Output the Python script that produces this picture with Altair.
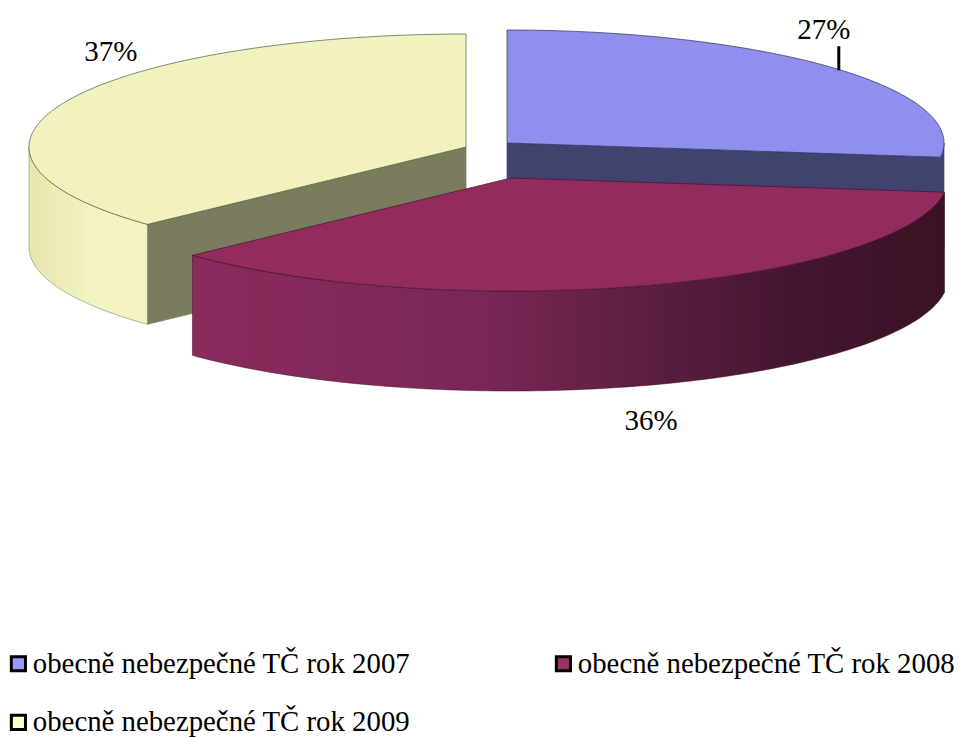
import numpy as np
import pandas as pd
import altair as alt

series = ["obecně nebezpečné TČ rok 2007", "obecně nebezpečné TČ rok 2008", "obecně nebezpečné TČ rok 2009"]
shares = [27, 36, 37]
centers_x = [507, 511, 466]
centers_y = [143, 178, 147]
legend_colors = ["#9999ff", "#993366", "#ffffcc"]
top_colors = ["#8f8fee", "#922c5e", "#f2f2c0"]
edge_colors = ["#2c2c60", "#4a1030", "#55553a"]
label_dx = [-11, 5, 46]
label_dy = [-38, 36, -50]

RX, RY, DEPTH = 437, 113, 100
FONT = "Liberation Serif"

edges = np.concatenate([[0], np.cumsum(shares)]) * 3.6


def rim(i, a):
    a = np.radians(a)
    return centers_x[i] + RX * np.sin(a), centers_y[i] - RY * np.cos(a)


def poly(name, xs, ys):
    return pd.DataFrame({"name": name, "k": np.arange(len(xs)), "x": xs, "y": ys})


def top(i):
    xs, ys = rim(i, np.linspace(edges[i], edges[i + 1], 120))
    return poly("t", np.r_[centers_x[i], xs, centers_x[i]], np.r_[centers_y[i], ys, centers_y[i]])


def wall(i, a0, a1):
    xs, ys = rim(i, np.linspace(a0, a1, 120))
    return poly("w", np.r_[xs, xs[::-1], xs[0]], np.r_[ys, ys[::-1] + DEPTH, ys[0]])


def face(i, a):
    x, y = rim(i, a)
    cx, cy = centers_x[i], centers_y[i]
    return poly("f", [cx, x, x, cx, cx], [cy, y, y + DEPTH, cy + DEPTH, cy])


xs_scale = alt.Scale(domain=[8, 959], nice=False, zero=False)
ys_scale = alt.Scale(domain=[737, 8], nice=False, zero=False)
X = alt.X("x:Q", scale=xs_scale, axis=None)
Y = alt.Y("y:Q", scale=ys_scale, axis=None)


def shape(df, fill, stroke=None, sw=0.7):
    kw = {"stroke": stroke if stroke else (fill if isinstance(fill, str) else "#333333"), "strokeWidth": sw}
    return alt.Chart(df).mark_line(fill=fill, interpolate="linear", **kw).encode(x=X, y=Y, order="k:Q")


purple_grad = alt.Gradient(
    gradient="linear", x1=0, x2=1, y1=0, y2=0,
    stops=[
        alt.GradientStop(color="#8a2b5c", offset=0),
        alt.GradientStop(color="#7a2755", offset=0.38),
        alt.GradientStop(color="#5c1f40", offset=0.6),
        alt.GradientStop(color="#441530", offset=0.8),
        alt.GradientStop(color="#3a1225", offset=1),
    ],
)
yellow_grad = alt.Gradient(
    gradient="linear", x1=0, x2=1, y1=0, y2=0,
    stops=[
        alt.GradientStop(color="#e6e6ac", offset=0),
        alt.GradientStop(color="#f2f2c2", offset=0.5),
        alt.GradientStop(color="#f3f3c4", offset=1),
    ],
)

layers = [
    shape(face(0, edges[1]), "#42426e"),
    shape(wall(0, 90, edges[1]), "#42426e"),
    shape(top(0), top_colors[0], edge_colors[0]),
    shape(face(2, edges[2]), "#7b7b5e"),
    shape(wall(2, edges[2], 270), yellow_grad, "#6c6c50", 0.5),
    shape(top(2), top_colors[2], edge_colors[2]),
    shape(wall(1, edges[1], edges[2]), purple_grad, "#3a1225", 0.5),
    shape(top(1), top_colors[1], edge_colors[1]),
]

mids = (edges[:-1] + edges[1:]) / 2
mid_pts = [rim(i, mids[i]) for i in range(3)]
labels = pd.DataFrame({
    "text": [f"{s}%" for s in shares],
    "x": [mid_pts[i][0] + label_dx[i] for i in range(3)],
    "y": [mid_pts[i][1] + label_dy[i] + (DEPTH if i == 1 else 0) for i in range(3)],
})
text = alt.Chart(labels).mark_text(font=FONT, fontSize=29, color="black", baseline="middle", align="center").encode(
    x=X, y=Y, text="text:N"
)

lead_x = mid_pts[0][0] + 4
lead = alt.Chart(pd.DataFrame({"x": [lead_x], "y": [mid_pts[0][1] + 2], "y2": [mid_pts[0][1] - 22]})).mark_rule(
    color="black", strokeWidth=3
).encode(x=X, y=Y, y2="y2:Q")

legend_layer = alt.Chart(pd.DataFrame({"s": series, "x": centers_x, "y": centers_y})).mark_point(
    filled=True, opacity=0, shape="square"
).encode(
    x=X, y=Y,
    color=alt.Color("s:N", scale=alt.Scale(domain=series, range=legend_colors), legend=alt.Legend(
        orient="none", legendX=-4, legendY=641, columns=2, direction="horizontal", title=None,
        symbolType="square", symbolSize=200, symbolOpacity=1, symbolStrokeColor="black", symbolStrokeWidth=3,
        labelFont=FONT, labelFontSize=28.8, labelColor="black", labelLimit=500, labelOffset=0,
        columnPadding=138, rowPadding=29,
    )),
)

chart = alt.layer(legend_layer, *layers, lead, text).properties(
    width=951, height=729, padding=0, background="white", autosize=alt.AutoSizeParams(type="none")
).configure_view(stroke=None)

chart.save("out.html", embed_options={"renderer": "svg", "actions": False})
